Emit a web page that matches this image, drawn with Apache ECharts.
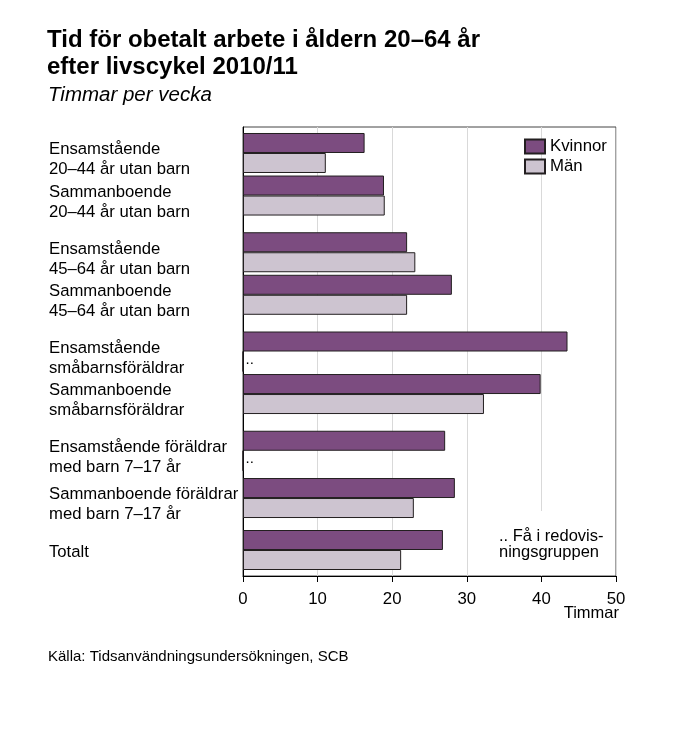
<!DOCTYPE html>
<html><head><meta charset="utf-8">
<script src="https://cdn.jsdelivr.net/npm/echarts@6/dist/echarts.min.js"></script>
<style>html,body{margin:0;padding:0;background:#fff}#c{width:694px;height:740px}</style>
</head><body><div id="c"></div>
<script>
// ---- data ----
const categories = [
  'Ensamstående\n20–44 år utan barn',
  'Sammanboende\n20–44 år utan barn',
  'Ensamstående\n45–64 år utan barn',
  'Sammanboende\n45–64 år utan barn',
  'Ensamstående\nsmåbarnsföräldrar',
  'Sammanboende\nsmåbarnsföräldrar',
  'Ensamstående föräldrar\nmed barn 7–17 år',
  'Sammanboende föräldrar\nmed barn 7–17 år',
  'Totalt'
];
const kvinnor = [16.3, 18.9, 22.0, 28.0, 43.5, 39.9, 27.1, 28.4, 26.8];
const man     = [11.1, 19.0, 23.1, 22.0, null, 32.3, null, 22.9, 21.2];
const seriesNames = ['Kvinnor', 'Män'];
const xTicks = [0, 10, 20, 30, 40, 50];
const missingMark = '..';
const noteText = '.. Få i redovis-\nningsgruppen';
const titleText = 'Tid för obetalt arbete i åldern 20–64 år\nefter livscykel 2010/11';
const subtitleText = 'Timmar per vecka';
const unitText = 'Timmar';
const sourceText = 'Källa: Tidsanvändningsundersökningen, SCB';

// ---- layout (spacer slots on the category axis) ----
const FONT = '"Liberation Sans", Arial, Helvetica, sans-serif';
const leadSlots = 5;
const slotGaps = [9, 12, 9, 12, 9, 12, 10, 11];
const totalSlots = 95;
const slotIndex = [leadSlots];
slotGaps.forEach(g => slotIndex.push(slotIndex[slotIndex.length - 1] + g));

const axisCats = [];
const labelCats = [];
const labelMap = {};
for (let i = 0; i < totalSlots; i++) { axisCats.push('s' + i); labelCats.push('l' + i); }
categories.forEach((c, k) => {
  axisCats[slotIndex[k]] = c;
  const li = slotIndex[k] - (c.indexOf('\n') < 0 ? 1 : 0);
  labelCats[li] = c;
  labelMap[li] = c;
});

const kData = new Array(totalSlots).fill('-');
const mData = new Array(totalSlots).fill('-');
categories.forEach((c, k) => {
  kData[slotIndex[k]] = kvinnor[k];
  mData[slotIndex[k]] = (man[k] === null)
    ? { value: 0, label: { show: true, formatter: missingMark, position: 'insideLeft', offset: [-2, -2], fontSize: 15, color: '#000', fontFamily: FONT } }
    : man[k];
});

const chart = echarts.init(document.getElementById('c'), null, { renderer: 'canvas' });
chart.setOption({
  animation: false,
  backgroundColor: '#fff',
  textStyle: { fontFamily: FONT },
  title: [
    { text: titleText, left: 47, top: 27, padding: 0,
      textStyle: { fontSize: 24, fontWeight: 'bold', lineHeight: 27, color: '#000', fontFamily: FONT } },
    { text: subtitleText, left: 48, top: 84, padding: 0,
      textStyle: { fontSize: 20.5, fontWeight: 'normal', fontStyle: 'italic', lineHeight: 22, color: '#000', fontFamily: FONT } }
  ],
  legend: {
    data: seriesNames, orient: 'vertical', left: 524, top: 138, padding: 0,
    itemWidth: 20, itemHeight: 14, itemGap: 3, icon: 'rect',
    textStyle: { fontSize: 16.8, color: '#000', fontFamily: FONT }
  },
  grid: [
    { left: 243, top: 127, width: 373, height: 449, show: true, borderColor: '#444', borderWidth: 1, containLabel: false },
    { left: 243, top: 133.7, width: 373, height: 449, show: false, containLabel: false }
  ],
  xAxis: [
    {
      type: 'value', gridIndex: 0, min: xTicks[0], max: xTicks[xTicks.length - 1], interval: xTicks[1] - xTicks[0],
      axisLine: { show: true, lineStyle: { color: '#000', width: 1 } },
      axisTick: { show: true, length: 6, inside: false, lineStyle: { color: '#000' } },
      axisLabel: { fontSize: 16.8, color: '#000', margin: 15, fontFamily: FONT },
      splitLine: { show: true, lineStyle: { color: '#d9d9d9', width: 1 } }
    },
    { type: 'value', gridIndex: 1, min: 0, max: 50, show: false }
  ],
  yAxis: [
    {
      type: 'category', gridIndex: 0, data: axisCats, inverse: true,
      axisLine: { show: true, lineStyle: { color: '#000', width: 1 } },
      axisTick: { show: false },
      axisLabel: { show: false },
      splitLine: { show: false }
    },
    {
      type: 'category', gridIndex: 1, data: labelCats, inverse: true,
      axisLine: { show: false }, axisTick: { show: false }, splitLine: { show: false },
      axisLabel: {
        interval: 0, align: 'left', margin: 194, fontSize: 16.7, lineHeight: 20, color: '#000', fontFamily: FONT,
        formatter: (v, i) => labelMap[i] || ''
      }
    }
  ],
  series: [
    { name: seriesNames[0], type: 'bar', xAxisIndex: 0, yAxisIndex: 0, data: kData, barWidth: 20, barGap: '0%',
      itemStyle: { color: '#7c4c80', borderColor: '#231f20', borderWidth: 1 } },
    { name: seriesNames[1], type: 'bar', xAxisIndex: 0, yAxisIndex: 0, data: mData, barWidth: 20, barGap: '0%',
      itemStyle: { color: '#cdc4d0', borderColor: '#231f20', borderWidth: 1 } }
  ],
  graphic: [
    { type: 'rect', shape: { x: 492, y: 511, width: 122, height: 64 }, style: { fill: '#fff' }, z: 50 },
    { type: 'text', x: 499, y: 528, z: 51,
      style: { text: noteText, fill: '#000', fontSize: 16.5, lineHeight: 16, fontFamily: FONT, align: 'left', verticalAlign: 'top' } },
    { type: 'text', x: 619, y: 613, z: 51,
      style: { text: unitText, fill: '#000', fontSize: 16.5, fontFamily: FONT, align: 'right', verticalAlign: 'middle' } },
    { type: 'text', x: 48, y: 657, z: 51,
      style: { text: sourceText, fill: '#000', fontSize: 15, fontFamily: FONT, align: 'left', verticalAlign: 'middle' } }
  ]
});
</script></body></html>
